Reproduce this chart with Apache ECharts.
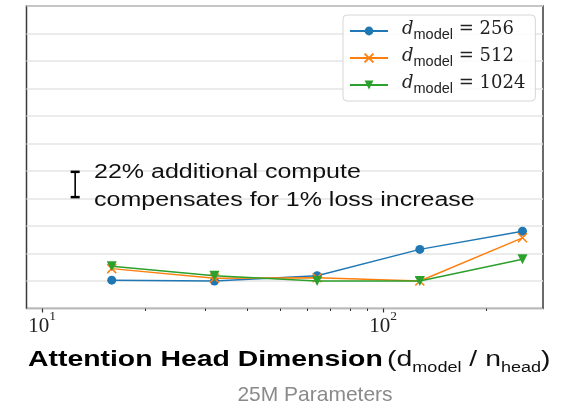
<!DOCTYPE html>
<html><head><meta charset="utf-8">
<script src="https://cdn.jsdelivr.net/npm/echarts@6/dist/echarts.min.js"></script>
<style>html,body{margin:0;padding:0;background:#fff}#c{width:569px;height:409px}</style>
</head><body><div id="c"></div>
<script>
// ---- data ----
const headDims = [16, 32, 64, 128, 256];
const loss256 = [1.03, 1.00, 1.19, 2.15, 2.81];
const loss512 = [1.45, 1.10, 1.12, 1.00, 2.57];
const loss1024 = [1.54, 1.19, 1.00, 1.00, 1.79];
const modelDims = ['256', '512', '1024'];
const majorTicks = [10, 100];
const majorTickExp = ['1', '2'];
const minorTicks = [20, 30, 40, 50, 60, 70, 80, 90, 200];
const errBarX = [12.5];
const errBarLow = [4.05];
const errBarHigh = [4.97];
const annotationLines = ['22% additional compute', 'compensates for 1% loss increase'];
const xTitleBold = 'Attention Head Dimension';
const subtitle = '25M Parameters';

const colors = ['#1f77b4', '#ff7f0e', '#2ca02c'];
const lossSets = [loss256, loss512, loss1024];
const symbols = ['circle', 'path://M0,0L10,10M10,0L0,10', 'triangle'];
const symbolSizes = [9, 9, 10];
const symbolRotates = [0, 0, 180];

const chart = echarts.init(document.getElementById('c'), null, {renderer: 'canvas'});

const lineSeries = modelDims.map((d, i) => ({
  name: d,
  type: 'line',
  xAxisIndex: 0, yAxisIndex: 0,
  data: headDims.map((h, j) => [h, lossSets[i][j]]),
  symbol: symbols[i],
  symbolSize: symbolSizes[i],
  symbolRotate: symbolRotates[i],
  showAllSymbol: true,
  lineStyle: {color: colors[i], width: 1.5},
  itemStyle: {color: colors[i], borderColor: colors[i], borderWidth: i === 1 ? 1.5 : 0},
  emphasis: {disabled: true},
  z: 3 + i
}));

const errSeries = {
  type: 'custom',
  name: 'err',
  xAxisIndex: 0, yAxisIndex: 0,
  silent: true,
  z: 10,
  data: errBarX.map((x, i) => [x, errBarLow[i], errBarHigh[i]]),
  renderItem(params, api) {
    const lo = api.coord([api.value(0), api.value(1)]);
    const hi = api.coord([api.value(0), api.value(2)]);
    const w = 4.5;
    return {type: 'group', children: [
      {type: 'line', shape: {x1: lo[0], y1: lo[1], x2: hi[0], y2: hi[1]}, style: {stroke: '#000', lineWidth: 1.6}},
      {type: 'line', shape: {x1: lo[0] - w, y1: lo[1], x2: lo[0] + w, y2: lo[1]}, style: {stroke: '#000', lineWidth: 2.5}},
      {type: 'line', shape: {x1: hi[0] - w, y1: hi[1], x2: hi[0] + w, y2: hi[1]}, style: {stroke: '#000', lineWidth: 2.5}}
    ]};
  }
};

const option = {
  backgroundColor: '#fff',
  animation: false,
  grid: {left: 26.5, top: 6, width: 516.5, height: 302.5, show: true, borderColor: '#3a3a3a', borderWidth: 1.5, backgroundColor: 'transparent', containLabel: false},
  xAxis: [{
    type: 'log', logBase: 10, min: 9, max: 294, position: 'bottom',
    axisLine: {show: false},
    splitLine: {show: false},
    minorTick: {show: false},
    axisTick: {show: true, inside: false, length: 4, lineStyle: {color: '#333', width: 1.2}, customValues: majorTicks},
    axisLabel: {
      show: true, margin: 1, customValues: majorTicks,
      formatter: (v) => { const k = majorTicks.indexOf(Math.round(v)); return '{a|10}{b|' + (k >= 0 ? majorTickExp[k] : '') + '}'; },
      rich: {
        a: {fontFamily: 'Liberation Serif', fontSize: 21, lineHeight: 21, padding: [6, 0, 0, 0], color: '#222', verticalAlign: 'top'},
        b: {fontFamily: 'Liberation Serif', fontSize: 13.5, lineHeight: 13, color: '#222', verticalAlign: 'top'}
      }
    }
  }, {
    type: 'log', logBase: 10, min: 9, max: 294, position: 'bottom', gridIndex: 0,
    axisLine: {show: false}, splitLine: {show: false},
    axisTick: {show: true, inside: false, length: 2.5, lineStyle: {color: '#333', width: 1}, customValues: minorTicks},
    axisLabel: {show: false}
  }],
  yAxis: {
    type: 'value', min: 0, max: 11, interval: 1,
    axisLine: {show: false}, axisTick: {show: false}, axisLabel: {show: false},
    splitLine: {show: true, lineStyle: {color: '#e4e4e4', width: 1.5}}
  },
  legend: {
    data: modelDims,
    orient: 'vertical',
    left: 343, top: 15,
    padding: [5, 10, 5, 6],
    itemWidth: 38, itemHeight: 11, itemGap: 5,
    backgroundColor: 'rgba(255,255,255,0.85)',
    borderColor: '#d6d6d6', borderWidth: 1, borderRadius: 4,
    selectedMode: false,
    formatter: (name) => '{d|d}{m|model}{e| = ' + name + '}',
    textStyle: {
      rich: {
        d: {fontFamily: 'DejaVu Serif', fontStyle: 'italic', fontSize: 18, lineHeight: 22, verticalAlign: 'top', color: '#222', padding: [0, 0, 0, 9]},
        m: {fontFamily: 'Liberation Sans', fontSize: 14.5, lineHeight: 13, verticalAlign: 'bottom', color: '#222'},
        e: {fontFamily: 'DejaVu Serif', fontSize: 18, lineHeight: 22, verticalAlign: 'top', color: '#222'}
      }
    }
  },
  graphic: [
    {
      type: 'text', x: 94, y: 186, scaleX: 1.25, silent: true, z: 100,
      style: {text: annotationLines.join('\n'), fontFamily: 'Liberation Sans', fontSize: 20, lineHeight: 28, fill: '#111', align: 'left', verticalAlign: 'middle'}
    },
    {
      type: 'text', x: 28, y: 362, scaleX: 1.29, silent: true, z: 100,
      style: {
        text: '{b|' + xTitleBold + '} {r|(d}{s|model}{r| / n}{s|head}{r|)}',
        align: 'left', verticalAlign: 'middle',
        rich: {
          b: {fontFamily: 'Liberation Sans', fontWeight: 'bold', fontSize: 22, lineHeight: 26, verticalAlign: 'top', fill: '#000'},
          r: {fontFamily: 'Liberation Sans', fontSize: 22, lineHeight: 26, verticalAlign: 'top', fill: '#111'},
          s: {fontFamily: 'Liberation Sans', fontSize: 14, lineHeight: 14, verticalAlign: 'bottom', fill: '#111'}
        }
      }
    },
    {
      type: 'text', x: 315, y: 395, scaleX: 1.0, silent: true, z: 100,
      style: {text: subtitle, fontFamily: 'Liberation Sans', fontSize: 21, fill: '#8a8a8a', align: 'center', verticalAlign: 'middle'}
    }
  ],
  series: [...lineSeries, errSeries]
};
chart.setOption(option);
</script></body></html>
